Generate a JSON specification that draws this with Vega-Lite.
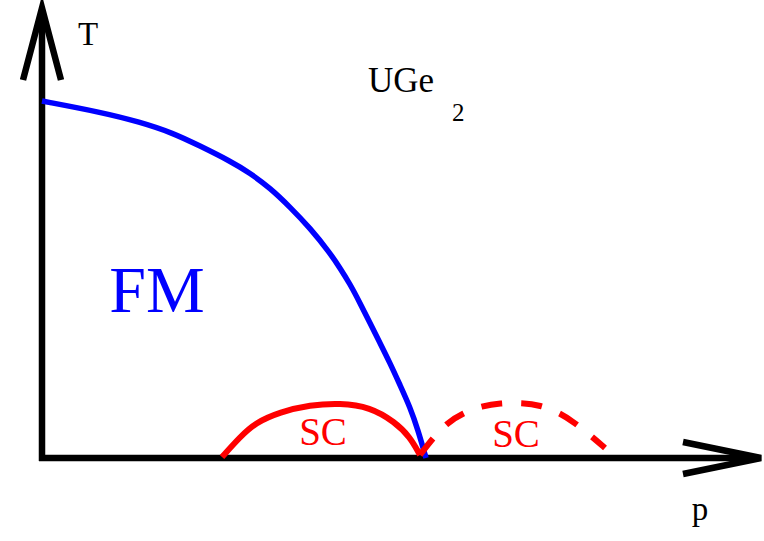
{
  "$schema": "https://vega.github.io/schema/vega-lite/v6.json",
  "width": 764,
  "height": 541,
  "padding": 0,
  "autosize": {"type": "none"},
  "config": {"view": {"stroke": null}},
  "datasets": {
    "axes": [
      {"part": "T-axis", "k": 0, "p": 0, "T": -3},
      {"part": "T-axis", "k": 1, "p": 0, "T": 446},
      {"part": "T-head", "k": 0, "p": -19, "T": 378},
      {"part": "T-head", "k": 1, "p": 0, "T": 450},
      {"part": "T-head", "k": 2, "p": 19, "T": 378},
      {"part": "p-axis", "k": 0, "p": -3, "T": 0},
      {"part": "p-axis", "k": 1, "p": 716, "T": 0},
      {"part": "p-head", "k": 0, "p": 641, "T": 16},
      {"part": "p-head", "k": 1, "p": 719, "T": 0},
      {"part": "p-head", "k": 2, "p": 641, "T": -16}
    ],
    "curie": [
      {"p": 0, "T": 357}, {"p": 58, "T": 346}, {"p": 98, "T": 336},
      {"p": 131, "T": 325}, {"p": 158, "T": 312}, {"p": 188, "T": 297},
      {"p": 208, "T": 285}, {"p": 228, "T": 270}, {"p": 248, "T": 251},
      {"p": 268, "T": 230}, {"p": 288, "T": 205}, {"p": 298, "T": 190},
      {"p": 308, "T": 174}, {"p": 318, "T": 155}, {"p": 328, "T": 135},
      {"p": 338, "T": 115}, {"p": 348, "T": 95}, {"p": 358, "T": 73},
      {"p": 368, "T": 51}, {"p": 376, "T": 28}, {"p": 384, "T": 0}
    ],
    "sc_fm": [
      {"p": 180, "T": 1}, {"p": 198, "T": 21}, {"p": 213, "T": 35},
      {"p": 238, "T": 46}, {"p": 268, "T": 53}, {"p": 298, "T": 55},
      {"p": 328, "T": 51}, {"p": 353, "T": 36}, {"p": 368, "T": 21},
      {"p": 378, "T": 3}
    ],
    "sc_pm": [
      {"p": 378, "T": 3}, {"p": 391, "T": 20}, {"p": 405, "T": 35},
      {"p": 421, "T": 45}, {"p": 440, "T": 52}, {"p": 458, "T": 55},
      {"p": 480, "T": 55}, {"p": 498, "T": 53}, {"p": 518, "T": 45},
      {"p": 533, "T": 35}, {"p": 548, "T": 23}, {"p": 563, "T": 10}
    ]
  },
  "encoding": {
    "x": {"field": "p", "type": "quantitative", "scale": {"domain": [-42, 722], "nice": false, "zero": false}, "axis": null},
    "y": {"field": "T", "type": "quantitative", "scale": {"domain": [-83, 458], "nice": false, "zero": false}, "axis": null}
  },
  "layer": [
    {
      "data": {"name": "axes"},
      "mark": {"type": "line", "color": "#000000", "strokeWidth": 6.5, "strokeCap": "butt", "strokeJoin": "miter", "interpolate": "linear"},
      "encoding": {
        "detail": {"field": "part"},
        "order": {"field": "k", "type": "quantitative"}
      }
    },
    {
      "data": {"name": "curie"},
      "mark": {"type": "line", "color": "#0000ff", "strokeWidth": 5.5, "strokeCap": "butt", "interpolate": "basis"},
      "encoding": {}
    },
    {
      "data": {"name": "sc_fm"},
      "mark": {"type": "line", "color": "#ff0000", "strokeWidth": 6, "strokeCap": "butt", "interpolate": "basis"},
      "encoding": {}
    },
    {
      "data": {"name": "sc_pm"},
      "mark": {"type": "line", "color": "#ff0000", "strokeWidth": 6, "strokeCap": "butt", "strokeDash": [21, 19], "interpolate": "basis"},
      "encoding": {}
    },
    {
      "data": {"values": [{"label": "T", "p": 46, "T": 413}, {"label": "p", "p": 658, "T": -62}]},
      "mark": {"type": "text", "font": "Liberation Serif", "fontSize": 33, "color": "#000000", "align": "center", "baseline": "alphabetic"},
      "encoding": {"text": {"field": "label"}}
    },
    {
      "data": {"values": [{"label": "UGe", "p": 326, "T": 366}]},
      "mark": {"type": "text", "font": "Liberation Serif", "fontSize": 35, "color": "#000000", "align": "left", "baseline": "alphabetic"},
      "encoding": {"text": {"field": "label"}}
    },
    {
      "data": {"values": [{"label": "2", "p": 410, "T": 337}]},
      "mark": {"type": "text", "font": "Liberation Serif", "fontSize": 25, "color": "#000000", "align": "left", "baseline": "alphabetic"},
      "encoding": {"text": {"field": "label"}}
    },
    {
      "data": {"values": [{"label": "FM", "p": 115, "T": 146}]},
      "mark": {"type": "text", "font": "Liberation Serif", "fontSize": 66, "color": "#0000ff", "align": "center", "baseline": "alphabetic"},
      "encoding": {"text": {"field": "label"}}
    },
    {
      "data": {"values": [{"label": "SC", "p": 281, "T": 13}, {"label": "SC", "p": 474, "T": 11}]},
      "mark": {"type": "text", "font": "Liberation Serif", "fontSize": 39, "color": "#ff0000", "align": "center", "baseline": "alphabetic"},
      "encoding": {"text": {"field": "label"}}
    }
  ]
}
